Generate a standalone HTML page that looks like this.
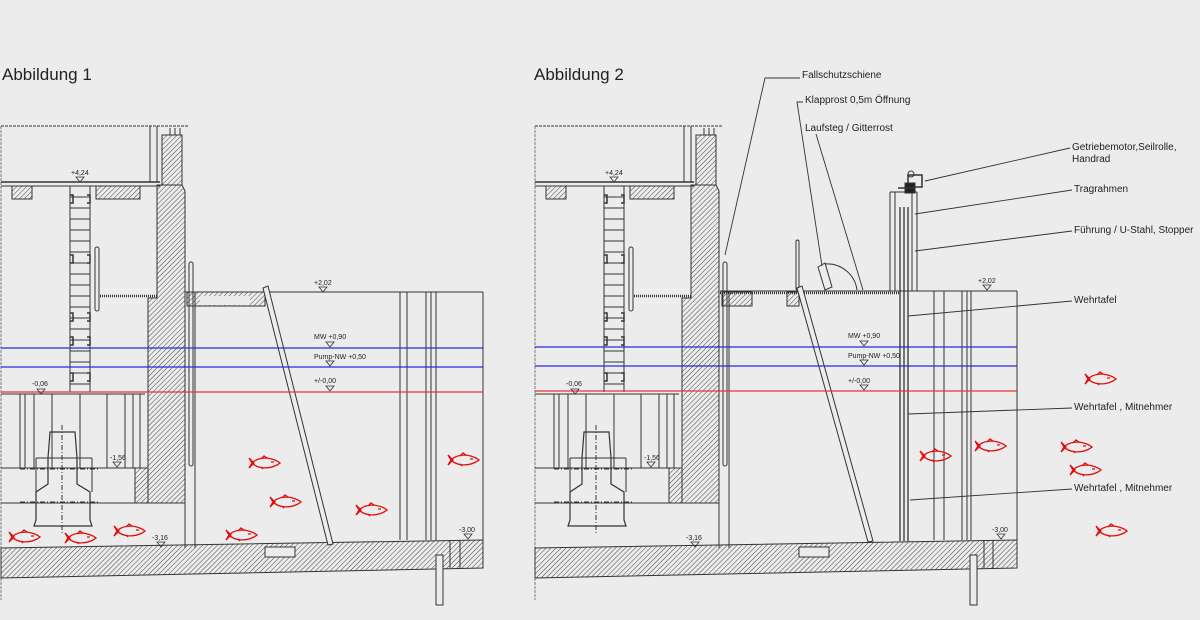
<!DOCTYPE html>
<html><head><meta charset="utf-8"><style>
html,body{margin:0;padding:0;background:#ececec;}
svg{display:block}
text{font-family:"Liberation Sans",sans-serif;fill:#222}
</style></head><body>
<svg width="1200" height="620" viewBox="0 0 1200 620" xmlns="http://www.w3.org/2000/svg">
<defs>
<pattern id="h" width="3.5" height="3.5" patternUnits="userSpaceOnUse" patternTransform="rotate(45)">
<line x1="0" y1="0" x2="0" y2="3.5" stroke="#444" stroke-width="1"/>
</pattern>
<g id="fish" fill="none" stroke="#e01010" stroke-width="1.3">
<path d="M0,-5 L5,0 L0,5 L3,0 Z"/>
<path d="M3,0 C8,-5 18,-7 28,-2 L31,0 L28,2 C18,7 8,5 3,0"/>
<path d="M12,-4 L15,-7 L18,-5 M12,4 L14,6 M22,-1 l3,0"/>
</g>
<g id="tri"><path d="M-4,0 L4,0 L0,5 Z" fill="none" stroke="#333" stroke-width="0.8"/></g>
<g id="left" stroke="#333" fill="none" stroke-width="1">
<line x1="1" y1="126" x2="188" y2="126" stroke-dasharray="3,1"/>
<line x1="1" y1="126" x2="1" y2="600" stroke-dasharray="3,1" stroke="#777"/>
<line x1="150" y1="126" x2="150" y2="182"/>
<line x1="157" y1="126" x2="157" y2="182"/>
<line x1="1" y1="182" x2="160" y2="182" stroke-width="1.4"/>
<line x1="1" y1="186" x2="160" y2="186"/>
<rect x="12" y="186" width="20" height="13" fill="url(#h)"/>
<rect x="96" y="186" width="44" height="13" fill="url(#h)"/>
<rect x="162" y="135" width="20" height="50" fill="url(#h)"/>
<line x1="170" y1="128" x2="170" y2="135"/><line x1="175" y1="128" x2="175" y2="135"/><line x1="180" y1="128" x2="180" y2="135"/>
<polygon points="157,185 182,185 185,191 185,503 148,503 148,298 157,298" fill="url(#h)"/>
<line x1="185" y1="191" x2="185" y2="548"/>
<line x1="195" y1="292" x2="195" y2="548"/>
<rect x="189" y="262" width="4" height="204" rx="2"/>
<line x1="70" y1="186" x2="70" y2="392"/><line x1="90" y1="186" x2="90" y2="392"/>
<path d="M70,197H90M70,208H90M70,219H90M70,230H90M70,241H90M70,252H90M70,263H90M70,274H90M70,285H90M70,296H90M70,307H90M70,318H90M70,329H90M70,340H90M70,351H90M70,362H90M70,373H90M70,384H90"/>
<path d="M70,195h3v8h-3M87,195h3v8h-3M70,255h3v8h-3M87,255h3v8h-3M70,313h3v8h-3M87,313h3v8h-3M70,337h3v8h-3M87,337h3v8h-3M70,373h3v8h-3M87,373h3v8h-3" stroke-width="1.5"/>
<rect x="95" y="247" width="4" height="64" rx="2"/>
<line x1="100" y1="296" x2="157" y2="296" stroke-width="2.5" stroke-dasharray="1,1"/>
<line x1="1" y1="394" x2="145" y2="394"/>
<path d="M20,394V468M25,394V468M34,394V468M52,394V468M80,394V468M107,394V468M125,394V468M133,394V468M140,394V468"/>
<line x1="1" y1="468" x2="135" y2="468"/>
<rect x="135" y="468" width="13" height="35" fill="url(#h)"/>
<line x1="1" y1="503" x2="148" y2="503"/>
<path d="M50,432 H75 L77,458 V484 L90,492 V520 L92,526 H34 L36,520 V492 L48,484 V458 Z" stroke-width="1.2"/>
<line x1="36" y1="458" x2="92" y2="458"/>
<path d="M36,458 V492 M92,458 V492"/>
<line x1="62" y1="425" x2="62" y2="535" stroke-dasharray="5,2,1,2"/>
<line x1="20" y1="469" x2="100" y2="469" stroke-dasharray="5,2,1,2"/>
<line x1="20" y1="502" x2="100" y2="502" stroke-dasharray="5,2,1,2"/>
</g>
</defs>

<text x="2" y="80" font-size="17">Abbildung 1</text>
<text x="534" y="80" font-size="17">Abbildung 2</text>

<use href="#left"/>
<g stroke="#333" fill="none" stroke-width="1">
<polygon points="1,548 483,540 483,568 1,578" fill="url(#h)"/>
<rect x="265" y="547" width="30" height="10" fill="#ececec"/>
<rect x="436" y="555" width="7" height="50" fill="#ececec"/>
<line x1="450" y1="540" x2="450" y2="568"/><line x1="460" y1="540" x2="460" y2="568"/>
<line x1="185" y1="292" x2="483" y2="292"/>
<line x1="483" y1="292" x2="483" y2="568"/>
<rect x="187" y="292" width="78" height="14" fill="url(#h)"/>
<rect x="200" y="296" width="50" height="9" fill="#ececec" stroke="none"/>
<polygon points="263,288 268,286 333,544 328,545" fill="#ececec"/>
<path d="M400,292V540M407,292V540M426,292V540M431,292V540M436,292V540"/>
</g>
<line x1="1" y1="348" x2="483" y2="348" stroke="#2a2ae0" stroke-width="1.2"/>
<line x1="1" y1="367" x2="483" y2="367" stroke="#2a2ae0" stroke-width="1.2"/>
<line x1="1" y1="392" x2="483" y2="392" stroke="#ee3333" stroke-width="1.3"/>
<g font-size="7">
<text x="71" y="175">+4,24</text><use href="#tri" x="80" y="177"/>
<text x="314" y="285">+2,02</text><use href="#tri" x="323" y="287"/>
<text x="314" y="339">MW +0,90</text><use href="#tri" x="330" y="342"/>
<text x="314" y="359">Pump-NW +0,50</text><use href="#tri" x="330" y="361"/>
<text x="314" y="383">+/-0,00</text><use href="#tri" x="330" y="386"/>
<text x="32" y="386">-0,06</text><use href="#tri" x="41" y="389"/>
<text x="110" y="460">-1,56</text><use href="#tri" x="117" y="462"/>
<text x="152" y="540">-3,16</text><use href="#tri" x="161" y="542"/>
<text x="459" y="532">-3,00</text><use href="#tri" x="468" y="534"/>
</g>
<use href="#fish" x="249" y="463"/><use href="#fish" x="270" y="502"/><use href="#fish" x="226" y="535"/>
<use href="#fish" x="114" y="531"/><use href="#fish" x="65" y="538"/><use href="#fish" x="9" y="537"/>
<use href="#fish" x="356" y="510"/><use href="#fish" x="448" y="460"/>

<use href="#left" x="534"/>
<g stroke="#333" fill="none" stroke-width="1">
<polygon points="535,548 1017,540 1017,568 535,578" fill="url(#h)"/>
<rect x="799" y="547" width="30" height="10" fill="#ececec"/>
<rect x="970" y="555" width="7" height="50" fill="#ececec"/>
<line x1="984" y1="540" x2="984" y2="568"/><line x1="993" y1="540" x2="993" y2="568"/>
<line x1="720" y1="291" x2="1017" y2="291"/>
<line x1="1017" y1="291" x2="1017" y2="568"/>
<line x1="720" y1="293" x2="900" y2="293" stroke-width="2.5" stroke-dasharray="1,1"/>
<rect x="722" y="292" width="30" height="14" fill="url(#h)"/>
<rect x="787" y="292" width="12" height="14" fill="url(#h)"/>
<rect x="796" y="240" width="3" height="50" rx="1.5"/>
<polygon points="797,288 802,286 873,541 868,542" fill="#ececec"/>
<path d="M818,267 l7,-4 l7,24 l-7,3 Z"/>
<path d="M825,264 A30,30 0 0 1 857,290"/>
<path d="M900,207V541M904,207V541M908,207V541" stroke-width="1.3"/>
<path d="M890,192V291M895,192V291M912,192V291M917,192V291M890,192H917"/>
<path d="M934,291V540M944,291V540M962,291V540M967,291V540M971,291V540"/>
<rect x="908" y="175" width="14" height="12" fill="#ececec" stroke-width="1.5"/>
<rect x="905" y="183" width="10" height="10" fill="#222"/>
<line x1="898" y1="188" x2="915" y2="188" stroke-width="1.5"/>
<circle cx="911" cy="174" r="3"/>
<g stroke-width="0.9">
<path d="M800,78 H765 L725,255"/>
<path d="M803,102 H797 L822,266"/>
<path d="M816,134 L863,290"/>
<path d="M1070,148 L925,181"/>
<path d="M1072,190 L915,214"/>
<path d="M1072,231 L915,251"/>
<path d="M1072,301 L908,316"/>
<path d="M1072,408 L908,414"/>
<path d="M1072,489 L910,500"/>
</g>
</g>
<line x1="535" y1="347" x2="1017" y2="347" stroke="#2a2ae0" stroke-width="1.2"/>
<line x1="535" y1="366" x2="1017" y2="366" stroke="#2a2ae0" stroke-width="1.2"/>
<line x1="535" y1="391" x2="1017" y2="391" stroke="#ee3333" stroke-width="1.3"/>
<g font-size="7">
<text x="605" y="175">+4,24</text><use href="#tri" x="614" y="177"/>
<text x="978" y="283">+2,02</text><use href="#tri" x="987" y="285"/>
<text x="848" y="338">MW +0,90</text><use href="#tri" x="864" y="341"/>
<text x="848" y="358">Pump-NW +0,50</text><use href="#tri" x="864" y="360"/>
<text x="848" y="383">+/-0,00</text><use href="#tri" x="864" y="385"/>
<text x="566" y="386">-0,06</text><use href="#tri" x="575" y="389"/>
<text x="644" y="460">-1,56</text><use href="#tri" x="651" y="462"/>
<text x="686" y="540">-3,16</text><use href="#tri" x="695" y="542"/>
<text x="992" y="532">-3,00</text><use href="#tri" x="1001" y="534"/>
</g>
<g font-size="10">
<text x="802" y="78">Fallschutzschiene</text>
<text x="805" y="103">Klapprost 0,5m Öffnung</text>
<text x="805" y="131">Laufsteg / Gitterrost</text>
<text x="1072" y="150">Getriebemotor,Seilrolle,</text>
<text x="1072" y="162">Handrad</text>
<text x="1074" y="192">Tragrahmen</text>
<text x="1074" y="233">Führung / U-Stahl, Stopper</text>
<text x="1074" y="303">Wehrtafel</text>
<text x="1074" y="410">Wehrtafel , Mitnehmer</text>
<text x="1074" y="491">Wehrtafel , Mitnehmer</text>
</g>
<use href="#fish" x="920" y="456"/><use href="#fish" x="975" y="446"/><use href="#fish" x="1061" y="447"/>
<use href="#fish" x="1070" y="470"/><use href="#fish" x="1085" y="379"/><use href="#fish" x="1096" y="531"/>
</svg>
</body></html>
